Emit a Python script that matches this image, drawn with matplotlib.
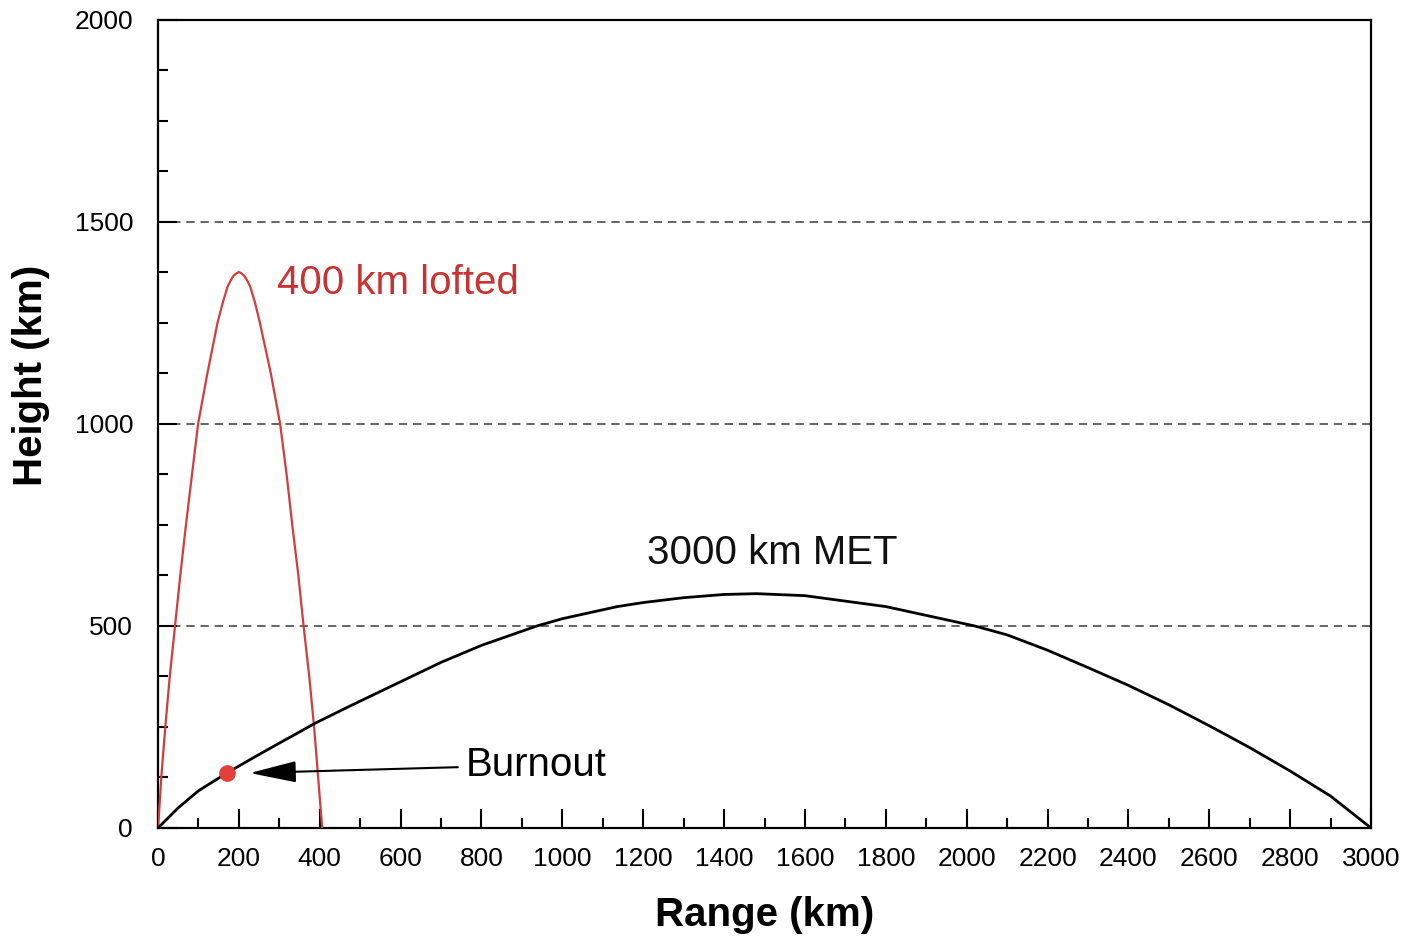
import matplotlib
matplotlib.use("Agg")
import matplotlib.pyplot as plt
from matplotlib.ticker import MultipleLocator

plt.rcParams['font.family'] = ['Liberation Sans', 'DejaVu Sans']

# 400 km lofted trajectory (range km, height km)
lofted_x = [0, 2, 4, 8, 18, 29, 42, 55, 69, 84, 99, 122, 147, 160, 172, 180, 187, 194, 200, 206, 213, 220, 228, 240, 252,
            279, 302, 318, 332, 347, 360, 374, 386, 396, 406]
lofted_y = [0, 30, 60, 125, 250, 375, 500, 625, 750, 875, 1000, 1125, 1250, 1300, 1340, 1356, 1367, 1373, 1376, 1373, 1367, 1356, 1340, 1300, 1250,
            1125, 1000, 875, 750, 625, 500, 375, 250, 125, 0]

# 3000 km minimum energy trajectory
met_x = [0, 50, 100, 170, 250, 300, 390, 475, 600, 700, 800, 937, 1000, 1136, 1200, 1300, 1400, 1480,
         1600, 1800, 2020, 2100, 2200, 2300, 2400, 2500, 2600, 2700, 2800, 2900, 3000]
met_y = [0, 50, 92, 136, 182, 210, 260, 302, 362, 410, 452, 500, 518, 548, 558, 570, 578, 580,
         575, 548, 500, 478, 440, 397, 353, 305, 253, 199, 141, 79, 0]

burnout = (170, 136)

fig = plt.figure(figsize=(14.06, 9.38), dpi=100)
ax = fig.add_axes([0.1124, 0.1173, 0.8627, 0.8614])

ax.plot(lofted_x, lofted_y, color='#d23c3c', lw=1.6, zorder=3)
ax.plot(met_x, met_y, color='black', lw=2.0, zorder=3)
ax.plot([burnout[0]], [burnout[1]], 'o', color='#e2403a', ms=11, zorder=4)

ax.set_xlim(0, 3000)
ax.set_ylim(0, 2000)
ax.xaxis.set_major_locator(MultipleLocator(200))
ax.xaxis.set_minor_locator(MultipleLocator(100))
ax.yaxis.set_major_locator(MultipleLocator(500))
ax.yaxis.set_minor_locator(MultipleLocator(125))

ax.tick_params(which='both', direction='in', top=False, right=False, width=1.5)
ax.tick_params(which='major', length=14)
ax.tick_params(which='minor', length=7)
ax.tick_params(axis='x', labelsize=19, pad=14)
ax.tick_params(axis='y', labelsize=19, pad=18)
for s in ax.spines.values():
    s.set_linewidth(1.6)

ax.yaxis.grid(True, which='major', linestyle=(0, (5, 3.5)), color='#4a4a4a', lw=1.2)

ax.set_xlabel('Range (km)', fontsize=29, fontweight='bold', labelpad=18)
ax.set_ylabel('Height (km)', fontsize=29, fontweight='bold')
ax.yaxis.set_label_coords(-0.089, 0.56)

ax.text(294, 1349, '400 km lofted', color='#c83232', fontsize=29, va='center', ha='left')
ax.text(1209, 681, '3000 km MET', color='#111111', fontsize=29, va='center', ha='left')
ax.annotate('Burnout', xy=(227, 136), xytext=(762, 156), fontsize=29, va='center', ha='left',
            arrowprops=dict(arrowstyle='-|>,head_length=1.0,head_width=0.23', color='black', lw=1.5,
                            shrinkA=4, shrinkB=0))

fig.savefig('out.png', dpi=100)
